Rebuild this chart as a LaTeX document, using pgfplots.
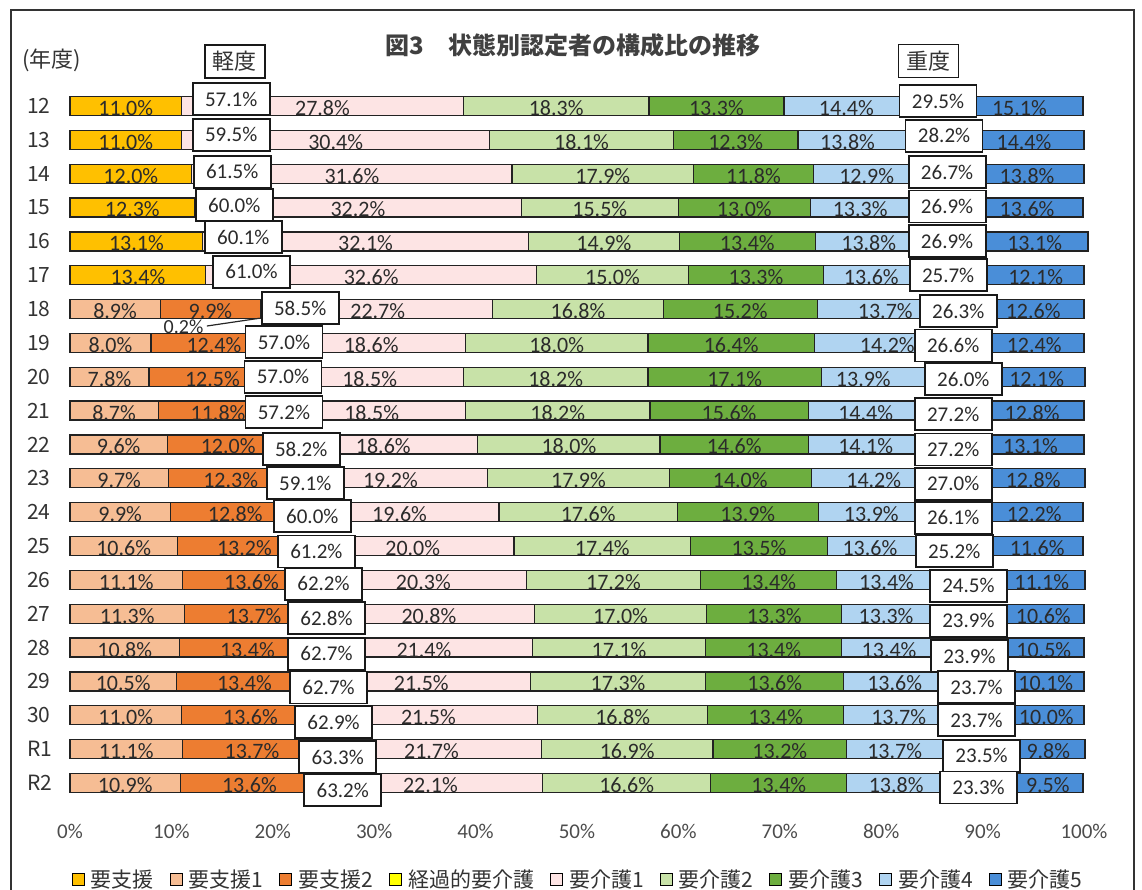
\documentclass[border=0pt]{standalone}
\usepackage{fontspec}
\setmainfont{Carlito}
\newfontfamily\cjk{Noto Sans CJK JP}
\usepackage{pgfplots}
\usepackage{pgfplotstable}
\pgfplotsset{compat=1.18}
\pgfkeys{/pgf/number format/assume math mode=true}

\definecolor{c0}{HTML}{FFC000}
\definecolor{c1}{HTML}{F6BD94}
\definecolor{c2}{HTML}{ED7D31}
\definecolor{c3}{HTML}{FFFF00}
\definecolor{c4}{HTML}{FDE4E4}
\definecolor{c5}{HTML}{C8E2A8}
\definecolor{c6}{HTML}{6DAE3F}
\definecolor{c7}{HTML}{B0D4F1}
\definecolor{c8}{HTML}{4A8ED8}
\definecolor{lbl}{HTML}{2B2B2B}
\definecolor{edge}{HTML}{222222}

% segment values (percent) per year row; o4 = label offset (pt) for 要介護4
\pgfplotstableread{
row s0 s1 s2 s3 k1 k2 k3 k4 k5 o4
0 11.0 0 0 0 27.8 18.3 13.3 14.4 15.1 -5.25
1 11.0 0 0 0 30.4 18.1 12.3 13.8 14.4 -10.25
2 12.0 0 0 0 31.6 17.9 11.8 12.9 13.8 -6
3 12.3 0 0 0 32.2 15.5 13.0 13.3 13.6 -8.75
4 13.1 0 0 0 32.1 14.9 13.4 13.8 13.1 -8.25
5 13.4 0 0 0 32.6 15.0 13.3 13.6 12.1 -10.5
6 0 8.9 9.9 0.2 22.7 16.8 15.2 13.7 12.6 -0.75
7 0 8.0 12.4 0 18.6 18.0 16.4 14.2 12.4 0.5
8 0 7.8 12.5 0 18.5 18.2 17.1 13.9 12.1 -14.25
9 0 8.7 11.8 0 18.5 18.2 15.6 14.4 12.8 -7.75
10 0 9.6 12.0 0 18.6 18.0 14.6 14.1 13.1 -7
11 0 9.7 12.3 0 19.2 17.9 14.0 14.2 12.8 -4.75
12 0 9.9 12.8 0 19.6 17.6 13.9 13.9 12.2 -8.75
13 0 10.6 13.2 0 20.0 17.4 13.5 13.6 11.6 -13.25
14 0 11.1 13.6 0 20.3 17.2 13.4 13.4 11.1 -9
15 0 11.3 13.7 0 20.8 17.0 13.3 13.3 10.6 -11.5
16 0 10.8 13.4 0 21.4 17.1 13.4 13.4 10.5 -10.25
17 0 10.5 13.4 0 21.5 17.3 13.6 13.6 10.1 -9
18 0 11.0 13.6 0 21.5 16.8 13.4 13.7 10.0 -7.25
19 0 11.1 13.7 0 21.7 16.9 13.2 13.7 9.8 -10.75
20 0 10.9 13.6 0 22.1 16.6 13.4 13.8 9.5 -10.25
}\bars

% 軽度 boxes: centre x (percent), vertical offset (px), value
\pgfplotstableread{
row xc dy val
0 15.9 -7 57.1
1 15.9 -5 59.5
2 16.0 -2 61.5
3 16.2 -2.5 60.0
4 17.1 -4 60.1
5 17.9 -3.5 61.0
6 22.7 -1 58.5
7 21.1 -1 57.0
8 21.0 0 57.0
9 21.1 1.5 57.2
10 22.8 4.5 58.2
11 23.2 5 59.1
12 23.9 4 60.0
13 24.3 5.5 61.2
14 25.0 4 62.2
15 25.3 4.5 62.8
16 25.3 6 62.7
17 25.5 6 62.7
18 26.0 7 62.9
19 26.4 8 63.3
20 26.9 7 63.2
}\light

% 重度 boxes
\pgfplotstableread{
row xc dy val
0 85.6 -5 29.5
1 86.2 -4 28.2
2 86.5 -1.5 26.7
3 86.5 -1 26.9
4 86.5 0 26.9
5 86.6 0 25.7
6 87.6 2 26.3
7 87.1 2.5 26.6
8 88.1 2.5 26.0
9 87.1 3.5 27.2
10 87.1 5 27.2
11 87.1 5.5 27.0
12 87.1 5.5 26.1
13 87.2 5 25.2
14 88.6 6 24.5
15 88.6 7 23.9
16 88.7 8.5 23.9
17 89.4 5.5 23.7
18 89.4 5 23.7
19 89.9 6.5 23.5
20 89.6 4.5 23.3
}\heavy

\pgfplotsset{
  common/.style={
    x=5.07pt, y=16.925pt,
    xmin=0, xmax=100, ymin=-0.7, ymax=21,
    y dir=reverse, clip=false,
  },
  mybar/.style={fill=#1, draw=edge, line width=0.65pt,
    legend image code/.code={\draw[fill=#1,draw=black,line width=0.5pt] (0pt,-3pt) rectangle (6pt,3pt);}},
  seglbl/.style={
    point meta=explicit,
    nodes near coords={\pgfmathfloatifflags{\pgfplotspointmeta}{0}{}{\pgfmathprintnumber[fixed,fixed zerofill,precision=1]{\pgfplotspointmeta}\%}},
    every node near coord/.style={anchor=center, xshift={#1}, yshift=-1pt,
      font=\fontsize{11}{12}\selectfont, text=lbl, inner sep=0pt},
  },
  boxlbl/.style={
    draw=none, mark=none, point meta=explicit,
    nodes near coords={\pgfmathprintnumber[fixed,fixed zerofill,precision=1]{\pgfplotspointmeta}\%},
    visualization depends on={\thisrow{dy}\as\dyv},
    every node near coord/.style={anchor=center, draw=black!90, fill=white, line width=0.9pt,
      minimum width=38.5pt, minimum height=16pt, inner sep=0pt, yshift={-0.5pt*\dyv},
      font=\fontsize{10.5}{12}\selectfont, text=lbl},
  },
}

\begin{document}
\begin{tikzpicture}
\begin{axis}[
  common,
  xbar stacked, bar width=9.5pt,
  axis line style={draw=none}, tick style={draw=none},
  xtick={0,10,...,100},
  xticklabels={0\%,10\%,20\%,30\%,40\%,50\%,60\%,70\%,80\%,90\%,100\%},
  xticklabel style={font=\fontsize{10.5}{12}\selectfont, text=black!70},
  ytick={0,...,20},
  yticklabels={12,13,14,15,16,17,18,19,20,21,22,23,24,25,26,27,28,29,30,R1,R2},
  yticklabel style={font=\cjk\fontsize{10.5}{12}\selectfont, text=black!80, anchor=west, xshift=-25pt},
  legend columns=9,
  legend style={at={(0.502,-0.0858)}, anchor=center, draw=none, fill=none,
    font=\cjk\fontsize{10.5}{12}\selectfont, text=black!80,
    /tikz/every even column/.append style={column sep=6pt},
    /tikz/every odd column/.append style={column sep=1pt}},
]
\addplot[mybar=c0, seglbl=0pt] table[x=s0, y=row, meta=s0]{\bars};
\addlegendentry{要支援}
\addplot[mybar=c1, seglbl=0pt] table[x=s1, y=row, meta=s1]{\bars};
\addlegendentry{要支援1}
\addplot[mybar=c2, seglbl=0pt] table[x=s2, y=row, meta=s2]{\bars};
\addlegendentry{要支援2}
\addplot[mybar=c3] table[x=s3, y=row]{\bars};
\addlegendentry{経過的要介護}
\addplot[mybar=c4, seglbl=0pt] table[x=k1, y=row, meta=k1]{\bars};
\addlegendentry{要介護1}
\addplot[mybar=c5, seglbl=0pt] table[x=k2, y=row, meta=k2]{\bars};
\addlegendentry{要介護2}
\addplot[mybar=c6, seglbl=0pt] table[x=k3, y=row, meta=k3]{\bars};
\addlegendentry{要介護3}
\addplot[mybar=c7, seglbl={(\offv)*1pt}, visualization depends on={\thisrow{o4}\as\offv}] table[x=k4, y=row, meta=k4]{\bars};
\addlegendentry{要介護4}
\addplot[mybar=c8, seglbl=6.5pt] table[x=k5, y=row, meta=k5]{\bars};
\addlegendentry{要介護5}
\end{axis}

\begin{axis}[common, hide axis]
\addplot[boxlbl] table[x=xc, y=row, meta=val]{\light};
\addplot[boxlbl] table[x=xc, y=row, meta=val]{\heavy};
% 0.2% call-out for 経過的要介護 (year 18)
\node[font=\fontsize{10}{11}\selectfont, text=lbl, inner sep=0pt] at (axis cs:11.2,6.53) {0.2\%};
\draw[black!85, line width=0.6pt] (axis cs:13.5,6.5) -- (axis cs:18.7,6.27);
% headings
\node[font=\cjk\bfseries\fontsize{12}{14}\selectfont, text=black!75] at (axis cs:49.6,-1.80) {図3　状態別認定者の構成比の推移};
\node[font=\cjk\fontsize{11}{13}\selectfont, text=black!80] at (axis cs:-1.78,-1.36) {(年度)};
\node[draw=black!90, line width=0.9pt, fill=white, minimum width=30pt, minimum height=16.5pt, inner sep=0pt,
  font=\cjk\fontsize{11}{13}\selectfont, text=black!80] at (axis cs:16.27,-1.31) {軽度};
\node[draw=black!90, line width=0.9pt, fill=white, minimum width=30pt, minimum height=16.5pt, inner sep=0pt,
  font=\cjk\fontsize{11}{13}\selectfont, text=black!80] at (axis cs:84.66,-1.33) {重度};
% outer frame
\draw[black!80, line width=1pt] (axis cs:-5.82,23.4) -- (axis cs:-5.82,-2.836) -- (axis cs:104.93,-2.836) -- (axis cs:104.93,23.4);
\coordinate (bbA) at (axis cs:-6.90,23.16);
\coordinate (bbB) at (axis cs:105.72,-3.131);
\end{axis}
\pgfresetboundingbox
\useasboundingbox (bbA) rectangle (bbB);
\end{tikzpicture}
\end{document}
